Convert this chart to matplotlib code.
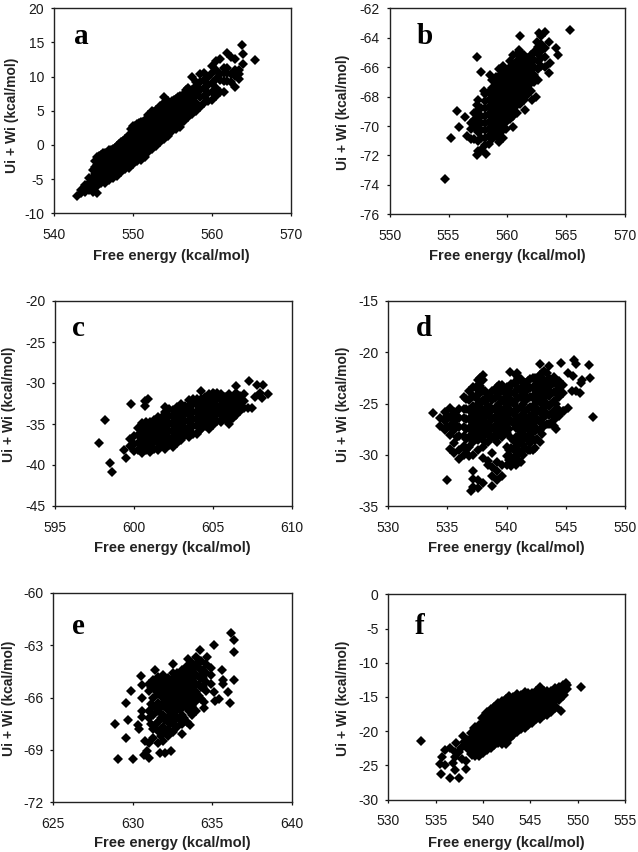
import matplotlib
matplotlib.use("Agg")
import matplotlib.pyplot as plt

plt.rcParams["font.family"] = ["Liberation Sans", "DejaVu Sans"]
plt.rcParams["axes.unicode_minus"] = False

W, H = 638, 852

# Clouds: one x per column, with the y values seen in that column
a_col_x = [543.0, 543.5, 544.0, 544.5, 545.0, 545.5, 546.0, 546.5, 547.0, 547.5, 548.0, 548.5, 549.0, 549.5,
           550.0, 550.5, 551.0, 551.5, 552.0, 552.5, 553.0, 553.5, 554.0, 554.5, 555.0, 555.5, 556.0, 556.5,
           557.0, 557.5, 558.0, 558.5, 559.0, 559.5, 560.0, 560.5, 561.0, 561.5, 562.0, 562.5, 563.0, 563.5, 564.0]
a_col_y = [[-7.4], [-7.0, -6.6], [-6.9, -5.9], [-6.6, -5.5, -4.8], [-6.9, -5.9, -4.8, -3.7],
           [-6.0, -5.0, -3.9, -2.9, -1.8], [-5.6, -4.5, -3.4, -2.4, -1.4], [-5.6, -4.5, -3.4, -2.4, -1.2],
           [-5.1, -4.0, -2.9, -1.8, -0.8], [-4.9, -3.8, -2.7, -1.6, -0.6], [-4.5, -3.4, -2.3, -1.2, -0.2],
           [-3.9, -2.8, -1.7, -0.6, 0.4], [-3.5, -2.4, -1.3, -0.2, 0.9], [-3.3, -2.1, -1.0, 0.1, 1.4],
           [-2.8, -1.7, -0.6, 0.5, 1.6, 2.8], [-2.3, -1.2, -0.1, 1.0, 2.1, 3.1], [-2.2, -1.1, 0.0, 1.1, 2.2, 3.3],
           [-1.7, -0.6, 0.5, 1.6, 2.7, 3.5], [-1.1, 0.0, 1.1, 2.2, 3.3, 4.4], [-0.6, 0.5, 1.6, 2.7, 3.8, 5.0],
           [-0.2, 0.9, 2.0, 3.1, 4.2, 5.1], [0.4, 1.5, 2.6, 3.7, 4.8, 5.7], [0.9, 2.0, 3.1, 4.2, 5.3, 6.2, 7.0],
           [1.3, 2.4, 3.5, 4.6, 5.7, 6.5], [2.0, 3.1, 4.2, 5.3, 6.4], [2.4, 3.5, 4.6, 5.7, 6.8],
           [2.7, 3.8, 4.9, 6.0, 7.2], [3.5, 4.6, 5.7, 6.8, 7.5], [4.1, 5.2, 6.3, 7.4, 8.4],
           [4.5, 5.6, 6.9, 8.0], [4.9, 6.2, 7.3, 8.6, 9.2], [5.5, 7.0, 8.0, 9.2],
           [6.2, 7.1, 8.3, 9.5], [6.5, 7.6, 8.8, 10.0], [6.6, 7.8, 9.1, 10.6],
           [7.2, 8.4, 9.6, 11.0], [7.8, 9.5, 10.4], [7.7, 9.3, 10.6, 11.3],
           [9.4, 10.5, 11.2], [9.2, 10.4], [10.1, 11.0], [9.7, 10.4, 11.0], [11.9]]
a2_col_x = [545.25, 545.75, 546.25, 546.75, 547.25, 547.75, 548.25, 548.75, 549.25, 549.75, 550.25, 550.75,
            551.25, 551.75, 552.25, 552.75, 553.25, 553.75, 554.25, 554.75, 555.25, 555.75, 556.25, 556.75]
a2_col_y = [[-6.2, -5.2, -4.2, -3.2, -2.4], [-5.5, -4.5, -3.5, -2.5, -1.6], [-5.0, -4.0, -3.0, -2.0, -1.2],
            [-5.0, -4.0, -3.0, -2.0, -1.2], [-4.5, -3.5, -2.5, -1.5, -0.7], [-4.2, -3.2, -2.2, -1.2, -0.4],
            [-3.8, -2.8, -1.8, -0.8, 0.1], [-3.4, -2.4, -1.4, -0.4, 0.6], [-3.0, -2.0, -1.0, 0.0, 1.0],
            [-2.6, -1.6, -0.6, 0.4, 1.4, 2.4], [-2.2, -1.2, -0.2, 0.8, 1.8, 2.8], [-1.8, -0.8, 0.2, 1.2, 2.2, 3.2],
            [-1.5, -0.5, 0.5, 1.5, 2.5, 3.4], [-1.0, 0.0, 1.0, 2.0, 3.0, 4.0], [-0.6, 0.4, 1.4, 2.4, 3.4, 4.4],
            [-0.1, 0.9, 1.9, 2.9, 3.9, 4.8], [0.4, 1.4, 2.4, 3.4, 4.4, 5.2], [0.9, 1.9, 2.9, 3.9, 4.9, 5.9],
            [1.3, 2.3, 3.3, 4.3, 5.3, 6.3], [2.0, 3.0, 4.0, 5.0, 6.0], [2.6, 3.6, 4.6, 5.6, 6.6],
            [3.0, 4.0, 5.0, 6.0, 7.0], [3.3, 4.3, 5.3, 6.3, 7.2], [4.0, 5.0, 6.0, 7.0, 8.0]]
a_x = [563.8, 565.5, 545.5, 557.5, 558.5, 559.0, 560.0, 560.5, 561.0, 562.0, 562.5, 563.0, 563.0, 564.0]
a_y = [14.6, 12.4, -7.1, 9.9, 10.4, 10.6, 11.6, 12.3, 12.6, 13.5, 12.9, 8.5, 12.6, 13.3]

b_col_x = [556.6, 556.9, 557.2, 557.5, 557.8, 558.1, 558.4, 558.7, 559.0, 559.3, 559.6, 559.9,
           560.2, 560.5, 560.8, 561.1, 561.4, 561.7, 562.0, 562.3, 562.6, 562.9, 563.2]
b_col_y = [[-70.7], [-70.9, -70.2, -69.8], [-70.9, -70.1, -69.6, -69.1], [-71.7, -71.0, -70.4, -69.9, -69.4, -68.9],
           [-71.6, -70.8, -70.3, -69.8, -69.3, -68.8], [-71.3, -70.8, -70.3, -69.8, -69.3, -68.8, -68.3, -67.8],
           [-71.2, -70.7, -70.2, -69.7, -69.2, -68.7, -68.2, -67.7],
           [-70.9, -70.4, -69.9, -69.4, -68.9, -68.4, -67.9, -67.4, -66.9],
           [-70.7, -70.2, -69.7, -69.2, -68.7, -68.2, -67.7, -67.2, -66.7],
           [-71.1, -70.6, -70.1, -69.6, -69.1, -68.6, -68.1, -67.6, -67.1, -66.6, -66.1],
           [-70.8, -70.3, -69.8, -69.3, -68.8, -68.3, -67.8, -67.3, -66.8, -66.3, -65.9],
           [-70.2, -69.7, -69.2, -68.7, -68.2, -67.7, -67.2, -66.7, -66.2],
           [-69.5, -69.0, -68.5, -68.0, -67.5, -67.0, -66.5, -66.0, -65.6],
           [-69.3, -68.8, -68.3, -67.8, -67.3, -66.8, -66.3, -65.8],
           [-69.1, -68.6, -68.1, -67.6, -67.1, -66.6, -66.1, -65.6, -65.1],
           [-68.5, -68.0, -67.5, -67.0, -66.5, -66.0, -65.5, -65.0],
           [-68.2, -67.7, -67.2, -66.7, -66.2, -65.7, -65.2], [-67.9, -67.4, -66.9, -66.4, -65.9, -65.4],
           [-67.6, -67.1, -66.6, -66.1, -65.6, -65.2], [-67.0, -66.5, -66.0, -65.5, -65.0],
           [-66.9, -66.1, -65.6, -65.1, -64.6], [-65.9, -65.4, -64.9, -64.4], [-66.0, -65.3, -64.7]]
b_x = [554.7, 565.3, 555.2, 555.7, 555.9, 556.4, 557.4, 557.8, 561.1, 562.7, 563.2, 562.9, 563.5, 564.1, 564.3,
       563.6, 563.5, 561.5, 560.5, 562.4, 562.1, 557.5, 557.4, 557.4, 558.2, 557.8, 558.5, 558.0, 561.0, 562.5, 560.5]
b_y = [-73.6, -63.5, -70.8, -69.0, -70.1, -69.4, -65.3, -66.3, -63.9, -63.7, -63.6, -63.9, -64.3, -64.7, -65.2,
       -65.7, -66.4, -68.9, -70.1, -68.0, -68.2, -68.2, -68.6, -72.0, -71.9, -71.6, -66.5, -67.6, -64.8, -64.3, -65.2]

c_col_x = [599.75, 600.0, 600.25, 600.5, 600.75, 601.0, 601.25, 601.5, 601.75, 602.0, 602.25, 602.5, 602.75,
           603.0, 603.25, 603.5, 603.75, 604.0, 604.25, 604.5, 604.75, 605.0, 605.25, 605.5, 605.75, 606.0,
           606.25, 606.5, 606.75, 607.0]
c_col_y = [[-37.7, -36.8], [-38.3, -37.4, -36.5], [-38.2, -37.3, -36.4, -35.5], [-38.5, -37.6, -36.7, -35.8, -34.9],
           [-38.2, -37.3, -36.4, -35.5, -34.7], [-38.4, -37.5, -36.6, -35.7, -34.8], [-38.1, -37.2, -36.3, -35.4, -34.5],
           [-38.2, -37.3, -36.4, -35.5, -34.6, -34.1], [-37.7, -36.8, -35.9, -35.0, -34.2],
           [-38.0, -37.1, -36.2, -35.3, -34.4, -33.5], [-37.6, -36.7, -35.8, -34.9, -34.0, -33.2],
           [-37.8, -36.9, -36.0, -35.1, -34.2, -33.3], [-37.3, -36.4, -35.5, -34.6, -33.7, -32.9],
           [-36.9, -36.0, -35.1, -34.2, -33.3, -32.6], [-36.4, -35.5, -34.6, -33.7, -32.8],
           [-36.6, -35.7, -34.8, -33.9, -33.0, -32.1], [-36.2, -35.3, -34.4, -33.5, -32.6, -31.9],
           [-36.2, -35.3, -34.4, -33.5, -32.6, -31.9], [-35.6, -34.7, -33.8, -32.9, -32.0],
           [-35.3, -34.4, -33.5, -32.6, -31.7], [-35.6, -34.7, -33.8, -32.9, -32.0, -31.3],
           [-35.1, -34.2, -33.3, -32.4, -31.5, -31.2], [-34.6, -33.7, -32.8, -31.9, -31.2],
           [-34.8, -33.9, -33.0, -32.1, -31.3], [-34.4, -33.5, -32.6, -31.7], [-34.6, -34.1, -33.2, -32.3, -31.4],
           [-34.3, -33.6, -32.7, -31.8], [-33.9, -33.0, -32.1, -31.2], [-33.4, -32.5, -31.6], [-33.0, -32.2, -31.3]]
c2_col_x = [600.6, 601.1, 601.6, 602.1, 602.6, 603.1, 603.6, 604.1, 604.6, 605.1, 605.6, 606.1, 606.6]
c2_col_y = [[-38.0, -37.1, -36.2, -35.3], [-38.0, -37.0, -36.1, -35.2], [-37.8, -36.8, -35.9, -35.0],
            [-37.5, -36.6, -35.7, -34.8, -33.9], [-37.3, -36.4, -35.5, -34.6, -33.7], [-36.4, -35.5, -34.6, -33.7, -32.9],
            [-36.1, -35.2, -34.3, -33.4, -32.5], [-35.8, -34.9, -34.0, -33.1, -32.2], [-34.9, -34.0, -33.1, -32.2],
            [-34.7, -33.8, -32.9, -32.0, -31.4], [-34.4, -33.5, -32.6, -31.7], [-33.7, -32.8, -31.9], [-33.5, -32.5, -31.6]]
c_x = [597.8, 598.2, 598.5, 598.6, 599.8, 600.7, 600.9, 600.7, 599.4, 599.5, 607.3, 607.8, 608.2, 608.5, 608.0,
       607.5, 607.2, 607.7, 608.1, 602.0, 604.25, 606.0, 606.5]
c_y = [-37.3, -34.5, -39.8, -40.8, -32.5, -32.2, -31.9, -32.8, -38.2, -39.1, -29.8, -30.2, -30.2, -31.4, -31.2,
       -33.1, -33.0, -31.7, -31.8, -32.9, -31.0, -35.0, -30.4]

d_col_x = [534.4, 534.8, 535.2, 535.6, 536.0, 536.4, 536.8, 537.2, 537.6, 538.0, 538.4, 538.8, 539.2, 539.6,
           540.0, 540.4, 540.8, 541.2, 541.6, 542.0, 542.4, 542.8, 543.2, 543.6, 544.0, 544.4, 544.8]
d_col_y = [[-27.2, -26.4], [-27.6, -26.7, -25.8], [-29.4, -28.1, -27.2, -26.3, -25.4], [-29.8, -28.9, -27.6, -26.7, -25.8],
           [-30.4, -29.5, -28.2, -27.3, -26.4, -25.5], [-30.0, -29.1, -28.2, -27.3, -26.4, -25.5, -24.4],
           [-30.1, -29.2, -28.3, -27.4, -26.5, -25.6, -24.7, -23.8],
           [-33.1, -32.4, -31.6, -30.0, -28.8, -27.9, -27.0, -26.1, -25.2, -24.3, -23.4],
           [-33.2, -32.5, -29.5, -28.6, -27.7, -26.8, -25.9, -25.0, -24.1, -23.2, -22.7],
           [-32.8, -30.3, -29.2, -28.3, -27.4, -26.5, -25.6, -24.7, -23.8, -22.7],
           [-31.0, -30.6, -28.8, -27.9, -27.0, -26.1, -25.2, -24.3],
           [-33.0, -32.1, -31.2, -29.8, -28.3, -27.4, -26.5, -25.6, -24.7, -23.8],
           [-32.5, -31.6, -30.7, -28.8, -27.9, -27.0, -26.1, -25.2, -24.3, -23.4],
           [-32.1, -31.0, -28.3, -27.4, -26.5, -25.6, -24.7, -23.8, -23.2],
           [-31.0, -30.1, -29.2, -27.9, -27.0, -26.1, -25.2, -24.3, -23.4],
           [-31.1, -30.2, -29.3, -28.4, -26.7, -25.8, -24.9, -24.0, -23.1],
           [-31.0, -30.1, -29.2, -28.3, -27.4, -26.5, -25.6, -24.7, -23.8, -22.9, -22.2],
           [-30.7, -29.8, -28.9, -28.0, -27.1, -26.2, -25.3, -24.4, -23.5, -22.6],
           [-29.3, -28.4, -27.5, -26.6, -25.7, -24.8, -23.9, -23.0],
           [-29.5, -28.9, -28.0, -27.1, -26.2, -25.3, -24.4, -23.5, -22.6],
           [-29.3, -28.6, -27.7, -26.8, -25.9, -25.0, -24.1, -23.2, -22.5],
           [-28.8, -27.6, -26.7, -25.8, -24.9, -24.0, -23.1, -22.2],
           [-27.2, -26.3, -25.4, -24.5, -23.6, -22.7, -21.8], [-27.0, -26.1, -25.2, -24.3, -23.4, -22.5],
           [-27.2, -26.6, -25.7, -24.8, -23.9, -23.0, -22.4], [-26.2, -25.6, -24.4, -23.5, -22.8], [-25.7, -24.0, -23.2]]
d2_col_x = [535.0, 535.8, 536.6, 537.4, 537.8, 538.2, 538.6, 539.0, 539.4, 539.8, 540.2, 540.6, 541.0, 541.4,
            541.8, 542.2, 542.6, 543.0, 543.4, 543.8, 544.2]
d2_col_y = [[-27.2, -26.2], [-28.3, -27.2, -26.2], [-29.5, -28.5, -27.5, -26.5, -25.5, -24.6],
            [-28.5, -27.5, -26.5, -25.5, -24.5, -23.5], [-28.0, -27.0, -26.0, -25.0, -24.0, -23.3],
            [-28.8, -27.8, -26.8, -25.8, -24.8, -23.8], [-28.3, -27.3, -26.3, -25.3, -24.3],
            [-28.5, -27.5, -26.5, -25.5, -24.5, -23.8], [-28.0, -27.0, -26.0, -25.0, -24.0, -23.2],
            [-27.8, -26.8, -25.8, -24.8, -23.8], [-30.5, -29.5, -27.5, -26.5, -25.5, -24.5, -23.5],
            [-30.5, -29.5, -28.7, -27.0, -26.0, -25.0, -24.0, -23.0],
            [-30.5, -29.5, -28.5, -27.5, -26.5, -25.5, -24.5, -23.5, -22.5],
            [-30.0, -29.0, -28.0, -27.0, -26.0, -25.0, -24.0, -23.0],
            [-29.5, -28.5, -27.5, -26.5, -25.5, -24.5, -23.5, -22.8],
            [-29.5, -28.5, -27.5, -26.5, -25.5, -24.5, -23.5, -22.5],
            [-28.5, -27.5, -26.5, -25.5, -24.5, -23.5, -22.5], [-28.0, -27.0, -26.0, -25.0, -24.0, -23.0, -22.0],
            [-27.0, -26.0, -25.0, -24.0, -23.0, -22.0], [-27.0, -26.0, -25.0, -24.0, -23.0], [-26.0, -25.0, -24.0, -23.0]]
d_x = [533.8, 535.0, 537.0, 545.2, 544.9, 545.5, 545.9, 546.2, 546.3, 546.4, 547.1, 547.0, 545.7, 545.9, 545.2,
       545.6, 547.3, 544.6, 538.0, 540.3, 542.8, 543.6, 544.2, 537.8, 540.9]
d_y = [-25.9, -32.5, -33.5, -25.4, -25.7, -23.8, -23.8, -24.0, -23.0, -22.7, -22.5, -21.2, -20.8, -21.1, -22.0,
       -22.3, -26.3, -21.0, -22.2, -21.9, -21.1, -21.3, -27.5, -22.5, -22.0]

e_col_x = [630.6, 631.0, 631.3, 631.6, 631.9, 632.2, 632.5, 632.8, 633.1, 633.4, 633.7, 634.0, 634.3, 634.6, 634.9]
e_col_y = [[-67.1, -66.8, -66.0, -65.3], [-68.6, -67.2, -66.8, -65.6, -65.2], [-68.3, -67.8, -67.0, -66.5, -66.0, -65.4, -65.0],
           [-68.6, -67.9, -67.4, -66.8, -66.3, -65.8, -65.2, -64.8], [-68.5, -67.7, -67.0, -66.5, -66.0, -65.5, -65.0, -64.7],
           [-68.2, -67.8, -67.2, -66.7, -66.2, -65.7, -65.2, -64.9], [-68.0, -67.5, -67.0, -66.5, -66.0, -65.5, -65.0, -64.6],
           [-67.7, -67.1, -66.5, -66.1, -65.6, -65.1, -64.6], [-67.5, -67.0, -66.4, -65.9, -65.4, -64.9, -64.4],
           [-67.4, -66.6, -66.1, -65.6, -65.1, -64.6, -64.2], [-67.0, -66.5, -66.0, -65.5, -65.0, -64.5, -64.0],
           [-66.8, -66.2, -65.7, -65.2, -64.7, -64.2, -63.7], [-66.1, -65.4, -64.9, -64.4, -63.9],
           [-65.6, -65.1, -64.6, -64.1], [-65.2, -64.7, -64.3]]
e2_col_x = [631.15, 631.45, 631.75, 632.05, 632.35, 632.65, 632.95, 633.25, 633.55, 633.85, 634.15, 634.45]
e2_col_y = [[-67.5, -66.4, -65.4], [-67.5, -66.6, -65.6, -65.1], [-68.2, -67.2, -66.5, -65.5, -65.0],
            [-68.0, -67.3, -66.2, -65.7, -65.2], [-67.5, -67.0, -66.4, -65.9, -65.4, -65.0],
            [-67.3, -66.8, -66.2, -65.7, -65.2, -64.8], [-67.3, -66.7, -66.2, -65.8, -65.3, -64.8],
            [-67.2, -66.2, -65.7, -65.2, -64.7], [-66.8, -66.3, -65.8, -65.3, -64.8, -64.3],
            [-66.7, -65.7, -65.2, -64.7, -64.2], [-65.9, -65.3, -64.8, -64.3, -63.9], [-65.4, -64.9, -64.4]]
e_x = [628.9, 629.1, 630.0, 629.6, 629.7, 629.6, 629.9, 630.5, 631.4, 632.5, 633.5, 634.2, 635.1, 636.2, 636.4,
       636.4, 636.4, 636.0, 636.1, 635.4, 635.2, 635.6, 635.7, 635.7, 635.1, 634.7, 634.5, 634.5, 633.6, 633.1,
       632.4, 632.0, 631.7, 631.0, 630.7, 630.9, 630.8, 630.4, 630.3]
e_y = [-67.5, -69.55, -69.55, -68.3, -67.3, -66.3, -65.6, -64.75, -64.4, -64.1, -63.8, -63.3, -63.0, -62.3, -62.7,
       -63.4, -65.0, -65.7, -66.3, -66.1, -66.2, -64.4, -65.0, -65.2, -65.7, -63.7, -66.6, -66.25, -67.6, -68.1,
       -69.1, -69.2, -69.2, -69.5, -69.3, -69.1, -68.5, -67.8, -67.6]

f_col_x = [538.4, 538.8, 539.2, 539.6, 540.0, 540.4, 540.8, 541.2, 541.6, 542.0, 542.4, 542.8, 543.2, 543.6,
           544.0, 544.4, 544.8, 545.2, 545.6, 546.0, 546.4, 546.8, 547.2, 547.6, 548.0, 548.4, 548.8]
f_col_y = [[-22.5, -21.4], [-23.3, -22.2, -21.1, -20.2], [-23.5, -22.7, -21.6, -20.5, -19.6], [-23.4, -22.6, -21.5, -20.4, -19.3],
           [-23.0, -22.1, -21.0, -19.9, -18.8, -18.0], [-22.6, -21.7, -20.6, -19.5, -18.4, -17.4],
           [-22.3, -21.3, -20.2, -19.1, -18.0, -16.9], [-21.8, -20.9, -19.8, -18.7, -17.6, -16.6],
           [-21.5, -20.4, -19.3, -18.2, -17.1, -16.0], [-21.7, -20.9, -19.8, -18.7, -17.6, -16.5, -15.7],
           [-21.7, -20.9, -19.8, -18.7, -17.6, -16.5, -15.5], [-21.0, -20.0, -18.9, -17.8, -16.7, -15.6, -15.0],
           [-20.4, -19.3, -18.2, -17.1, -16.0, -15.1], [-19.9, -18.8, -17.7, -16.6, -15.5, -15.0],
           [-19.6, -18.7, -17.6, -16.5, -15.4, -14.9], [-19.4, -18.5, -17.4, -16.3, -15.2, -14.5],
           [-19.0, -17.9, -16.8, -15.7, -14.6], [-18.6, -17.7, -16.6, -15.5, -14.6], [-18.1, -17.2, -16.1, -15.0, -14.2],
           [-18.0, -17.1, -16.0, -14.9, -14.0], [-17.5, -16.5, -15.4, -14.3], [-17.5, -16.7, -15.6, -14.5, -14.2],
           [-17.0, -16.1, -15.0, -14.2], [-16.4, -15.5, -14.4, -13.8], [-15.3, -14.4, -13.7], [-14.7, -14.0, -13.4], [-13.9, -13.2]]
f_x = [533.5, 535.6, 536.5, 537.5, 537.0, 535.5, 536.0, 538.2, 538.2, 537.8, 535.7, 536.0, 536.5, 537.0, 537.0,
       537.2, 537.7, 537.9, 538.0, 537.5, 548.2, 550.4, 536.8, 548.8, 546.0, 543.6, 544.4]
f_y = [-21.4, -26.2, -26.8, -26.8, -25.6, -24.8, -25.0, -25.5, -24.4, -24.0, -23.7, -22.8, -22.5, -23.0, -23.7,
       -21.7, -22.5, -20.7, -21.5, -23.0, -17.0, -13.5, -24.6, -12.9, -13.6, -14.6, -14.2]

a_xticks = [540, 550, 560, 570]
a_yticks = [-10, -5, 0, 5, 10, 15, 20]
b_xticks = [550, 555, 560, 565, 570]
b_yticks = [-76, -74, -72, -70, -68, -66, -64, -62]
c_xticks = [595, 600, 605, 610]
c_yticks = [-45, -40, -35, -30, -25, -20]
d_xticks = [530, 535, 540, 545, 550]
d_yticks = [-35, -30, -25, -20, -15]
e_xticks = [625, 630, 635, 640]
e_yticks = [-72, -69, -66, -63, -60]
f_xticks = [530, 535, 540, 545, 550, 555]
f_yticks = [-30, -25, -20, -15, -10, -5, 0]


def flatten(col_x, col_y):
    xs = []
    ys = []
    for x, col in zip(col_x, col_y):
        for y in col:
            xs.append(x)
            ys.append(y)
    return xs, ys


def draw_panel(fig, box, label_pos, letter, letter_pos, xticks, yticks, columns, extra_x, extra_y, cloud_ms):
    # box is left, right, top, bottom in image pixels
    left, right, top, bottom = box
    ax = fig.add_axes([left / W, 1 - bottom / H, (right - left) / W, (bottom - top) / H])
    for col_x, col_y in columns:
        xs, ys = flatten(col_x, col_y)
        ax.plot(xs, ys, ls="none", marker="D", ms=cloud_ms, mew=0, color="black")
    ax.plot(extra_x, extra_y, ls="none", marker="D", ms=4.7, mew=0, color="black")
    ax.set_xlim(xticks[0], xticks[-1])
    ax.set_ylim(yticks[0], yticks[-1])
    ax.set_xticks(xticks)
    ax.set_yticks(yticks)
    ax.tick_params(axis="x", length=2.5, width=0.9, labelsize=10, color="#111111", labelcolor="#1a1a1a", pad=8)
    ax.tick_params(axis="y", length=2.5, width=0.9, labelsize=10, color="#111111", labelcolor="#1a1a1a", pad=4.5)
    for side in ax.spines.values():
        side.set_linewidth(1.0)
        side.set_color("#222222")

    yl_x, yl_y, xl_x, xl_y = label_pos
    fig.text(xl_x / W, 1 - (xl_y + 1) / H, "Free energy (kcal/mol)", ha="center", va="center",
             fontsize=10.6, fontweight="bold", color="#222222")
    fig.text((yl_x + 1.5) / W, 1 - yl_y / H, "Ui + Wi (kcal/mol)", ha="center", va="center", rotation=90,
             fontsize=10, fontweight="bold", color="#222222")
    fig.text(letter_pos[0] / W, 1 - letter_pos[1] / H, letter, ha="center", va="baseline",
             family="Liberation Serif", fontsize=21, fontweight="bold", color="black")


def main():
    fig = plt.figure(figsize=(W / 100, H / 100), dpi=100)

    draw_panel(fig, (53.7, 290.7, 8.3, 213.3), (10.7, 115.5, 171, 255), "a", (81, 44),
               a_xticks, a_yticks, [(a_col_x, a_col_y), (a2_col_x, a2_col_y)], a_x, a_y, 5.0)
    draw_panel(fig, (389.7, 625, 8.3, 214.3), (341, 112, 507, 255), "b", (425, 44),
               b_xticks, b_yticks, [(b_col_x, b_col_y)], b_x, b_y, 5.0)
    draw_panel(fig, (55, 291.7, 301, 506), (8, 404.5, 172.5, 547), "c", (78, 336),
               c_xticks, c_yticks, [(c_col_x, c_col_y), (c2_col_x, c2_col_y)], c_x, c_y, 5.0)
    draw_panel(fig, (388.3, 624.7, 301, 506), (341, 404.5, 506, 547), "d", (424, 336),
               d_xticks, d_yticks, [(d_col_x, d_col_y), (d2_col_x, d2_col_y)], d_x, d_y, 5.2)
    draw_panel(fig, (53.3, 291.7, 593, 802), (8, 698, 172.5, 842), "e", (78, 634),
               e_xticks, e_yticks, [(e_col_x, e_col_y), (e2_col_x, e2_col_y)], e_x, e_y, 4.7)
    draw_panel(fig, (388.3, 625, 594.3, 799.7), (341, 698, 506, 842), "f", (420, 634),
               f_xticks, f_yticks, [(f_col_x, f_col_y)], f_x, f_y, 6.0)

    fig.savefig("out.png", dpi=100)


if __name__ == "__main__":
    main()
